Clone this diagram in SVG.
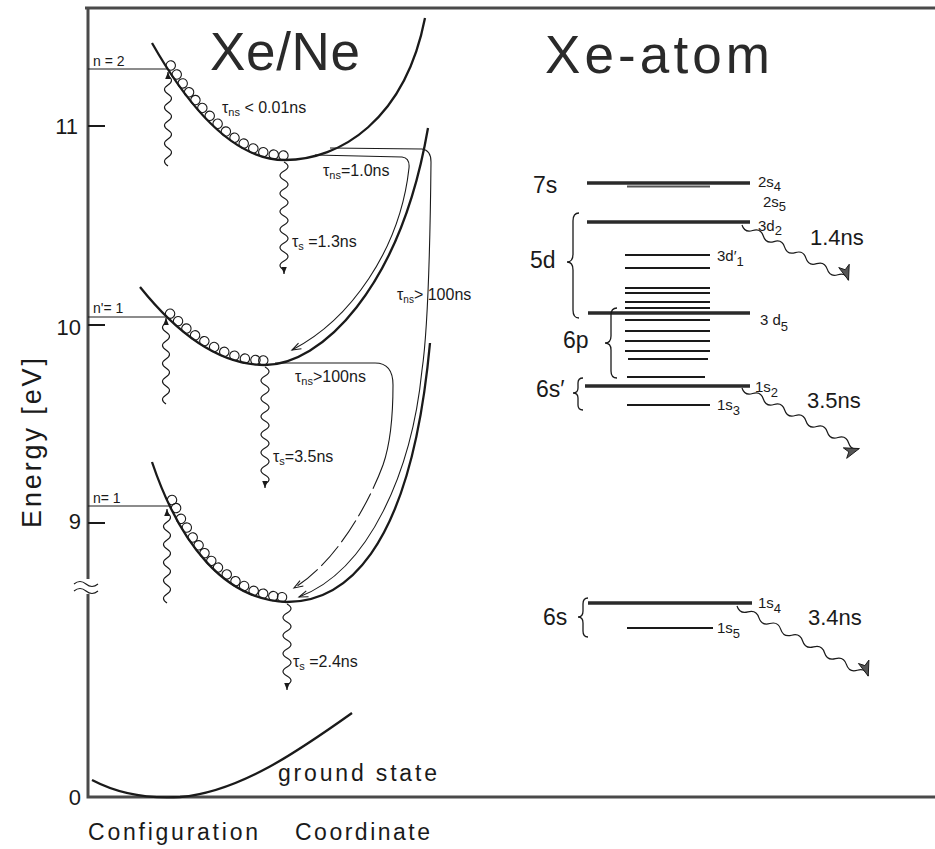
<svg xmlns="http://www.w3.org/2000/svg" width="935" height="849" viewBox="0 0 935 849">
<defs>
<style>
.ax{fill:none;stroke:#4a4a4a;stroke-width:3}
.tk{fill:none;stroke:#1a1a1a;stroke-width:2}
.cv{fill:none;stroke:#1a1a1a;stroke-width:2.3}
.th{fill:none;stroke:#1a1a1a;stroke-width:1.1}
.ds{fill:none;stroke:#1a1a1a;stroke-width:1.1;stroke-dasharray:26 5}
.wv{fill:none;stroke:#1a1a1a;stroke-width:1.2}
.lp{fill:none;stroke:none;marker-start:url(#loop);marker-mid:url(#loop);marker-end:url(#loop)}
.lv{stroke:#1a1a1a;stroke-width:2}
.lvk{stroke:#2a2a2a;stroke-width:3.5}
.br{fill:none;stroke:#1a1a1a;stroke-width:1.3}
text{font-family:"Liberation Sans",Arial,sans-serif;fill:#1a1a1a}
.title{font-size:53px;fill:#2a2a2a}
.tau{font-size:16px}
.nl{font-size:14px}
.num{font-size:22px}
.big{font-size:23px}
.lab{font-size:15px}
.sub{font-size:13px}
</style>
<marker id="loop" markerUnits="userSpaceOnUse" markerWidth="20" markerHeight="20" refX="0" refY="0" orient="auto" overflow="visible"><circle cx="0" cy="-4.5" r="4.7" fill="none" stroke="#1a1a1a" stroke-width="1.1"/></marker>
<marker id="ah" markerUnits="userSpaceOnUse" markerWidth="20" markerHeight="20" refX="0" refY="0" orient="auto" overflow="visible"><path d="M-9,-3.2 L0,0 L-9,3.2" fill="none" stroke="#1a1a1a" stroke-width="1.1"/></marker>
<marker id="ahf" markerUnits="userSpaceOnUse" markerWidth="20" markerHeight="20" refX="0" refY="0" orient="auto" overflow="visible"><path d="M-7,-2.8 L0,0 L-7,2.8 z" fill="#1a1a1a"/></marker>
<marker id="ahb" markerUnits="userSpaceOnUse" markerWidth="30" markerHeight="30" refX="0" refY="0" orient="auto" overflow="visible"><path d="M-15,-5.5 L0,0 L-15,5.5 L-11,0 z" fill="#555" stroke="#1a1a1a" stroke-width="0.9"/></marker>
</defs>
<rect x="0" y="0" width="935" height="849" fill="#ffffff"/>

<g id="axes">
<path class="ax" d="M85,8 L935,8"/>
<path class="ax" d="M88,8 L88,579 M88,594 L88,797 L935,797"/>
<path class="th" stroke-width="1.5" d="M74,584 q6,-5 12,0 t12,0 M74,591 q6,-5 12,0 t12,0"/>
<path class="tk" d="M88,126 H105 M88,325 H105 M88,523 H105"/>
<text class="num" x="78" y="134" text-anchor="end">11</text>
<text class="num" x="81" y="335" text-anchor="end">10</text>
<text class="num" x="81" y="529" text-anchor="end">9</text>
<text class="num" x="81" y="805" text-anchor="end">0</text>
<text x="0" y="0" font-size="27" transform="translate(41,528) rotate(-90)" textLength="170" lengthAdjust="spacing">Energy [eV]</text>
<text class="big" x="88" y="840" textLength="170" lengthAdjust="spacing">Configuration</text>
<text class="big" x="295" y="840" textLength="135" lengthAdjust="spacing">Coordinate</text>
</g>

<g id="title-xene"><text class="title" x="210" y="70" textLength="150" lengthAdjust="spacing">Xe/Ne</text></g>
<g id="title-xeatom"><text class="title" x="545" y="73" textLength="225" lengthAdjust="spacing">Xe-atom</text></g>

<g id="curve-n2">
<path class="cv" d="M152,43 Q218.5,160 285,160 C340,160 405,120 425,18"/>
<path class="lp" d="M167,68 L173,77 L179,86 L185.5,95 L192,103 L199,111 L206.5,119 L214.5,127 L223,135 L232,141.5 L241.5,147.5 L251.5,152.6 L262,156.5 L273,159 L283,160"/>
<path class="th" d="M88,69 H167"/>
<text class="nl" x="93" y="66">n = 2</text>
<text class="tau" x="222" y="113">τ<tspan font-size="11" dy="3">ns</tspan><tspan dy="-3"> &lt; 0.01ns</tspan></text>
</g>

<g id="curve-n1p">
<path class="cv" d="M140,287 Q202.5,365 265,365 C320,365 400,290 428,128"/>
<path class="lp" d="M167,317 L175,324.5 L183.5,332 L192.5,339 L202,345 L212,351 L222.5,356 L233,360 L244,363 L255,364.5 L263,365"/>
<path class="th" d="M88,317 H167"/>
<text class="nl" x="93" y="313">n'= 1</text>
</g>

<g id="curve-n1">
<path class="cv" d="M152,462 C180,545 225,600 287,602 C340,602 410,560 430,343"/>
<path class="lp" d="M168,502 L172,510 L177,521 L183,530 L189,540 L195,548 L201,556 L208,564 L215,571 L224,578 L233,585 L242,590 L252,595 L262,598 L272.5,600.5 L281.5,601.6"/>
<path class="th" d="M88,506 H169"/>
<text class="nl" x="93" y="503">n= 1</text>
</g>

<g id="ground-state">
<path class="cv" d="M92,780 Q130,800 180,797 C240,792 300,750 352,713"/>
<text class="big" x="278" y="781" textLength="159" lengthAdjust="spacing">ground state</text>
</g>

<g id="connectors">
<path class="wv" marker-end="url(#ahf)" d="M168,166 q-7,-4.5 0,-9 t0,-9 t0,-9 t0,-9 t0,-9 t0,-9 t0,-9 t0,-9 t0,-9 t0,-9 l0,-4"/>
<path class="wv" marker-end="url(#ahf)" d="M166,404 q-7,-4.5 0,-9 t0,-9 t0,-9 t0,-9 t0,-9 t0,-9 t0,-9 t0,-9 t0,-9 l0,-5"/>
<path class="wv" marker-end="url(#ahf)" d="M167,603 q-7,-4.5 0,-9 t0,-9 t0,-9 t0,-9 t0,-9 t0,-9 t0,-9 t0,-9 t0,-9 t0,-9 l0,-4"/>
<path class="wv" marker-end="url(#ahf)" d="M284,162 q8,4.5 0,9 t0,9 t0,9 t0,9 t0,9 t0,9 t0,9 t0,9 t0,9 t0,9 t0,9 t0,9 l0,4"/>
<path class="wv" marker-end="url(#ahf)" d="M265,367 q8,4.5 0,9 t0,9 t0,9 t0,9 t0,9 t0,9 t0,9 t0,9 t0,9 t0,9 t0,9 t0,9 t0,9 l0,4"/>
<path class="wv" marker-end="url(#ahf)" d="M287,604 q8,4.5 0,9 t0,9 t0,9 t0,9 t0,9 t0,9 t0,9 t0,9 t0,9 l0,5"/>
<path class="th" marker-end="url(#ah)" d="M315,155 L402,157 Q410,158 409,168 C400,250 350,320 292,350"/>
<path class="th" marker-end="url(#ah)" d="M330,148 L422,149 Q431,150 431,162 C430,260 428,330 422,370 C412,470 370,570 299,597"/>
<path class="th" d="M275,363 L375,363 Q393,363 393,385 C393,420 390,445 383,465"/>
<path class="ds" marker-end="url(#ah)" d="M383,465 C372,495 340,560 294,588"/>
</g>

<g id="labels-lifetimes">
<text class="tau" x="323" y="176">τ<tspan font-size="11" dy="3">ns</tspan><tspan dy="-3">=1.0ns</tspan></text>
<text class="tau" x="292" y="247">τ<tspan font-size="11" dy="3">s</tspan><tspan dy="-3"> =1.3ns</tspan></text>
<text class="tau" x="397" y="300" font-size="15">τ<tspan font-size="10" dy="3">ns</tspan><tspan dy="-3">&gt; 100ns</tspan></text>
<text class="tau" x="295" y="382">τ<tspan font-size="11" dy="3">ns</tspan><tspan dy="-3">&gt;100ns</tspan></text>
<text class="tau" x="273" y="462">τ<tspan font-size="11" dy="3">s</tspan><tspan dy="-3">=3.5ns</tspan></text>
<text class="tau" x="293" y="667">τ<tspan font-size="11" dy="3">s</tspan><tspan dy="-3"> =2.4ns</tspan></text>
</g>

<g id="level-7s">
<line class="lvk" x1="587" y1="183" x2="750" y2="183"/>
<line stroke="#555" stroke-width="2" x1="627" y1="186.5" x2="710" y2="186.5"/>
<text class="big" x="533" y="193">7s</text>
<text class="lab" x="758" y="187">2s<tspan class="sub" dy="4">4</tspan></text>
<text class="lab" x="763" y="207">2s<tspan class="sub" dy="4">5</tspan></text>
</g>

<g id="level-5d">
<line class="lvk" x1="587" y1="222" x2="750" y2="222"/>
<line class="lv" x1="625" y1="255" x2="710" y2="255"/>
<line class="lv" x1="625" y1="268" x2="710" y2="268"/>
<line class="lv" x1="625" y1="288" x2="710" y2="288"/>
<line class="lv" x1="625" y1="293" x2="710" y2="293"/>
<line class="lv" x1="625" y1="302" x2="710" y2="302"/>
<line class="lv" x1="625" y1="308" x2="710" y2="308"/>
<line class="lvk" x1="588" y1="313" x2="750" y2="313"/>
<path class="br" d="M579,213 q-6,0 -6,8 v33 q0,8 -6,8 q6,0 6,8 v40 q0,8 6,8"/>
<text class="big" x="530" y="268" font-size="24">5d</text>
<text class="lab" x="758" y="231">3d<tspan class="sub" dy="4">2</tspan></text>
<text class="lab" x="717" y="261">3d′<tspan class="sub" dy="5">1</tspan></text>
<text class="lab" x="760" y="325">3 d<tspan class="sub" dy="6">5</tspan></text>
<g transform="translate(742,225) rotate(27.4)"><path class="wv" stroke-width="1.4" marker-end="url(#ahb)" d="M0,0 q6,6 12,0 t12,0 t12,0 t12,0 t12,0 t12,0 t12,0 t12,0 t12,0 t12,0"/></g>
<text class="num" x="810" y="245">1.4ns</text>
</g>

<g id="level-6p">
<line class="lv" x1="625" y1="320" x2="710" y2="320"/>
<line class="lv" x1="625" y1="331" x2="710" y2="331"/>
<line class="lv" x1="625" y1="341" x2="710" y2="341"/>
<line class="lv" x1="625" y1="351" x2="710" y2="351"/>
<line class="lv" x1="628" y1="359" x2="708" y2="359"/>
<line class="lv" x1="627" y1="377" x2="705" y2="377"/>
<path class="br" d="M617,308 q-6,0 -6,7 v21 q0,7 -6,7 q6,0 6,7 v21 q0,7 6,7"/>
<text class="big" x="563" y="348" font-size="24">6p</text>
</g>

<g id="level-6s-prime">
<line class="lvk" x1="585" y1="386" x2="750" y2="386"/>
<line class="lv" x1="627" y1="405" x2="710" y2="405"/>
<path class="br" d="M583,378 q-5,0 -5,5 v5 q0,5 -5,5 q5,0 5,5 v7 q0,5 5,5"/>
<text class="big" x="536" y="397" font-size="24">6s′</text>
<text class="lab" x="755" y="392">1s<tspan class="sub" dy="5">2</tspan></text>
<text class="lab" x="717" y="410">1s<tspan class="sub" dy="5">3</tspan></text>
<g transform="translate(742,388) rotate(27.3)"><path class="wv" stroke-width="1.4" marker-end="url(#ahb)" d="M0,0 q6,6 12,0 t12,0 t12,0 t12,0 t12,0 t12,0 t12,0 t12,0 t12,0 t12,0 t12,0"/></g>
<text class="num" x="807" y="408">3.5ns</text>
</g>

<g id="level-6s">
<line class="lvk" x1="588" y1="603" x2="752" y2="603"/>
<line class="lv" x1="627" y1="628" x2="713" y2="628"/>
<path class="br" d="M588,598 q-5,0 -5,6 v7 q0,6 -5,6 q5,0 5,6 v8 q0,6 5,6"/>
<text class="big" x="543" y="625" font-size="22">6s</text>
<text class="lab" x="758" y="608">1s<tspan class="sub" dy="5">4</tspan></text>
<text class="lab" x="717" y="633">1s<tspan class="sub" dy="5">5</tspan></text>
<g transform="translate(737,606) rotate(28.1)"><path class="wv" stroke-width="1.4" marker-end="url(#ahb)" d="M0,0 q6.2,6 12.4,0 t12.4,0 t12.4,0 t12.4,0 t12.4,0 t12.4,0 t12.4,0 t12.4,0 t12.4,0 t12.4,0 t12.4,0 t12.4,0"/></g>
<text class="num" x="808" y="625">3.4ns</text>
</g>
</svg>
